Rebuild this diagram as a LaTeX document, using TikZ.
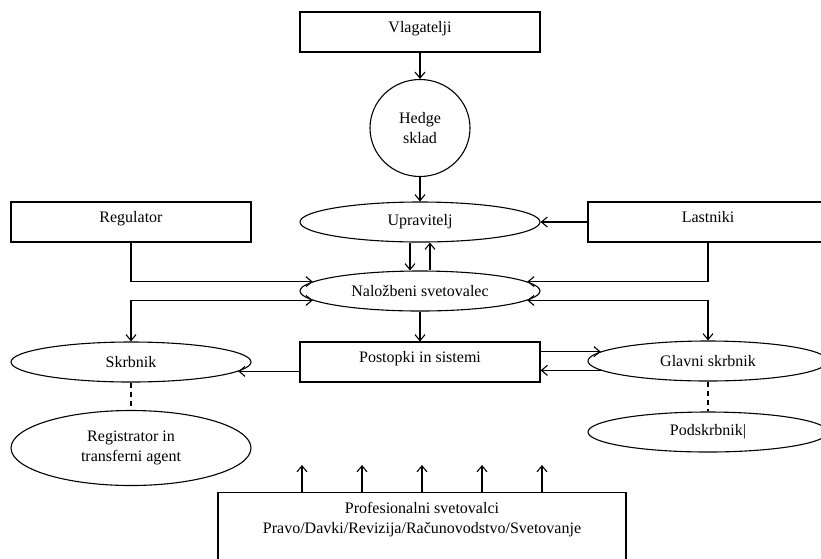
\documentclass[tikz,border=0pt]{standalone}
\usepackage{fontspec}
\setmainfont{Liberation Serif}
\usetikzlibrary{shapes.geometric,arrows.meta}

\begin{document}
\begin{tikzpicture}[x=1pt, y=-1pt, line width=1.1pt,
    font=\fontsize{16}{20}\selectfont,
    box/.style={draw, rectangle, minimum width=240pt, minimum height=40pt,
      inner sep=0pt, text height=11pt, text depth=10pt},
    oval/.style={draw, ellipse, minimum width=240pt, minimum height=40pt,
      inner sep=0pt, align=center},
    arr/.style={-{Straight Barb[length=6pt,width=10pt]}},
    darr/.style={{Straight Barb[length=6pt,width=10pt]}-{Straight Barb[length=6pt,width=10pt]}}]

    \useasboundingbox (0,0) rectangle (821,558);
    \clip (0,0) rectangle (821,558);

    % top of the chain
    \node[box] (vlag) at (420,32) {Vlagatelji};
    \node[oval, minimum width=100pt, minimum height=97pt] (hedge) at (420,128)
      {Hedge\\sklad};
    \node[oval] (uprav) at (420,222) {Upravitelj};
    \node[box] (reg) at (131,222) {Regulator};
    \node[box] (last) at (708,222) {Lastniki};
    \node[oval] (nal) at (420,291) {Naložbeni svetovalec};

    % middle row
    \node[box] (post) at (420,362) {Postopki in sistemi};
    \node[oval] (skr) at (131,362) {Skrbnik};
    \node[oval] (glav) at (708,361) {Glavni skrbnik};

    % bottom row
    \node[oval, minimum height=75pt] (reginfo) at (131,448)
      {Registrator in\\transferni agent};
    \node[oval] (podskr) at (708,432) {Podskrbnik|};
    \node[draw, rectangle, anchor=north, minimum width=408pt, inner xsep=0pt,
      inner ysep=10pt, align=center, text depth=40pt] (prof) at (422,492)
      {Profesionalni svetovalci\\Pravo/Davki/Revizija/Računovodstvo/Svetovanje};

    \draw[arr] (vlag) -- (hedge);
    \draw[arr] (hedge) -- (uprav);
    \draw[arr] (last) -- (uprav);
    \draw[arr] ([xshift=-10pt]uprav.south) -- ([xshift=-10pt]nal.north);
    \draw[arr] ([xshift=10pt]nal.north) -- ([xshift=10pt]uprav.south);
    \draw[arr] (reg.south) |- (nal.175);
    \draw[arr] (last.south) |- (nal.5);
    \draw[darr] (nal.185) -| (skr.north);
    \draw[darr] (nal.355) -| (glav.north);
    \draw[arr] (nal) -- (post);
    \draw[arr] (post.east |- glav.175) -- (glav.175);
    \draw[arr] (glav.185) -- (glav.185 -| post.east);
    \draw[arr] (post.west |- skr.355) -- (skr.355);

    \draw[dash pattern=on 5pt off 4pt] (skr) -- (reginfo);
    \draw[dash pattern=on 5pt off 4pt] (glav) -- (podskr);

    \foreach \dx in {-120,-60,0,60,120}
      \draw[arr] ([xshift=\dx pt]prof.north) -- ++(0,-27);

\end{tikzpicture}
\end{document}
